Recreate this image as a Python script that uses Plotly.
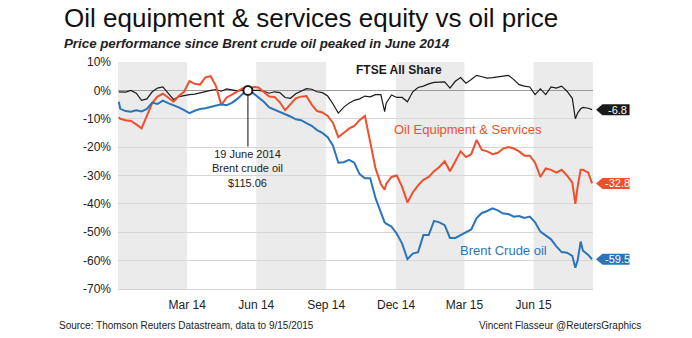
import pandas as pd
import numpy as np
import plotly.graph_objects as go

# ---------------- data (percent change vs 19 June 2014) ----------------
weekly_dates = pd.date_range("2014-01-02", "2015-09-10", freq="7D")  # Thursdays

brent_weekly = [
    -6.5, -7.3, -7.5, -7.0, -7.4, -6.5, -4.3, -4.8, -3.6, -4.5,
    -5.2, -6.0, -7.0, -8.0, -7.2, -6.6, -6.3, -5.8, -5.3, -4.9,
    -5.2, -4.4, -3.0, -1.3, 0.0, -1.0, -2.5, -4.0, -6.0, -6.8,
    -7.5, -8.2, -9.2, -10.2, -10.5, -11.5, -12.5, -14.0, -15.0, -16.5,
    -19.5, -25.5, -25.3, -24.5, -25.5, -29.5, -31.0, -31.0, -38.0, -43.0,
    -47.0, -48.0, -50.5, -54.0, -59.5, -57.5, -57.0, -51.0, -51.0, -46.0,
    -46.5, -47.5, -52.0, -52.0, -51.0, -50.0, -49.0, -45.0, -43.2, -42.5,
    -41.6, -42.3, -43.4, -43.6, -44.5, -44.3, -45.0, -44.5, -46.5, -49.8,
    -51.0, -52.5, -55.0, -57.0, -57.2, -58.3, -60.0, -56.5, -58.0,
]
oil_equip_weekly = [
    -10.0, -10.5, -10.8, -12.0, -13.4, -9.0, -4.5, -2.2, -1.2, -2.5,
    -4.0, -2.0, -0.5, 3.3, 2.3, 2.0, 4.6, 5.0, 1.5, -5.2,
    -2.5, -1.5, -0.5, 0.7, 0.0, 1.2, 1.0, -0.5, -2.2, -2.3,
    -4.2, -7.0, -5.0, -2.8, -2.2, -2.0, -5.0, -7.3, -7.8, -9.0,
    -11.5, -16.5, -15.0, -13.5, -12.5, -10.5, -9.0, -18.0, -27.5, -33.0,
    -33.0, -30.5, -30.0, -34.0, -39.5, -36.0, -33.5, -31.5, -30.5, -28.5,
    -27.0, -25.0, -28.5, -25.0, -21.5, -23.5, -22.5, -17.5, -21.0, -21.5,
    -22.5, -22.0, -20.5, -20.0, -20.5, -21.5, -23.0, -23.0, -25.5, -30.5,
    -27.5, -28.0, -29.0, -28.0, -30.0, -32.5, -34.0, -28.0, -29.0,
]
ftse_weekly = [
    -0.5, -0.6, 0.0, -1.0, -3.5, -3.0, -0.5, 0.8, 1.2, -1.0,
    -3.2, -2.2, -1.8, -1.5, -1.3, -0.8, -0.5, 0.0, 0.3, -0.3,
    0.5, 0.2, -0.2, 0.0, 0.0, -0.1, 0.0, -0.3, -1.0, -0.5,
    -0.8, -2.5, -2.8, -1.2, -0.3, 0.6, 0.4, -0.5, -0.8, -2.0,
    -4.8, -8.0, -6.0, -4.5, -3.5, -3.0, -2.0, -2.3, -1.5, -1.5,
    -4.5, -1.6, -2.5, -2.5, -4.0, -0.5, 1.0, 1.5, 2.3, 2.8,
    3.0, 3.0, 0.8, 3.2, 4.5, 2.5, 3.8, 5.3, 4.8, 4.3,
    4.5, 4.8, 5.0, 5.3, 3.8, 2.0, 1.5, 1.2, -1.5, 0.5,
    -1.5, 1.2, 0.8, 1.5, -0.3, -2.8, -8.0, -6.0, -6.3,
]

extra_dates = ["2013-12-31", "2014-12-16", "2015-08-24", "2015-08-31", "2015-09-15"]
brent_extra = [-4.0, -46.5, -62.5, -53.3, -59.5]
oil_equip_extra = [-9.5, -35.0, -40.0, -28.0, -32.8]
ftse_extra = [-0.5, -7.5, -10.0, -6.5, -6.8]

peak_date = "2014-06-19"
peak_text = "19 June 2014<br>Brent crude oil<br>$115.06"

band_edges = ["2013-12-30", "2014-03-31", "2014-06-30", "2014-09-30",
              "2014-12-31", "2015-03-31", "2015-06-30", "2015-09-16 06:00"]
tick_vals = ["2014-03-31", "2014-06-30", "2014-09-30", "2014-12-31", "2015-03-31", "2015-06-30"]
tick_text = ["Mar 14", "Jun 14", "Sep 14", "Dec 14", "Mar 15", "Jun 15"]
y_vals = [10, 0, -10, -20, -30, -40, -50, -60, -70]
y_text = ["10%", "0%", "-10%", "-20%", "-30%", "-40%", "-50%", "-60%", "-70%"]

# ---------------- assemble ----------------
assert len(weekly_dates) == len(brent_weekly) == len(oil_equip_weekly) == len(ftse_weekly)
df = pd.DataFrame({
    "date": list(weekly_dates) + list(pd.to_datetime(extra_dates)),
    "brent": brent_weekly + brent_extra,
    "oil": oil_equip_weekly + oil_equip_extra,
    "ftse": ftse_weekly + ftse_extra,
}).sort_values("date").reset_index(drop=True)

BLACK = "#1a1a1a"
RED = "#ef4f2c"
BLUE = "#2b74b8"
FONT = "Liberation Sans, Arial, sans-serif"

fig = go.Figure()
fig.add_trace(go.Scatter(x=df["date"], y=df["ftse"], mode="lines",
                         line=dict(color=BLACK, width=1.2), hoverinfo="skip"))
fig.add_trace(go.Scatter(x=df["date"], y=df["oil"], mode="lines",
                         line=dict(color=RED, width=2), hoverinfo="skip"))
fig.add_trace(go.Scatter(x=df["date"], y=df["brent"], mode="lines",
                         line=dict(color=BLUE, width=2), hoverinfo="skip"))

peak_row = df[df["date"] == pd.Timestamp(peak_date)].iloc[0]
fig.add_trace(go.Scatter(x=[peak_row["date"]], y=[peak_row["brent"]], mode="markers",
                         marker=dict(symbol="circle", size=9, color="white",
                                     line=dict(color=BLACK, width=2)),
                         hoverinfo="skip"))

shapes = []
for k in range(0, len(band_edges) - 1, 2):
    shapes.append(dict(type="rect", xref="x", yref="paper", x0=band_edges[k], x1=band_edges[k + 1],
                       y0=0, y1=1, fillcolor="#ebebeb", line=dict(width=0), layer="below"))

annotations = []
# end tags
last = df.iloc[-1]
tip, body, right, h = 1.0063, 1.02, 1.077, 1.95
for col, color in [("ftse", BLACK), ("oil", RED), ("brent", BLUE)]:
    v = float(last[col])
    shapes.append(dict(type="path", xref="paper", yref="y",
                       path=f"M {tip},{v} L {body},{v + h} L {right},{v + h} L {right},{v - h} L {body},{v - h} Z",
                       fillcolor=color, line=dict(width=0)))
    annotations.append(dict(xref="paper", yref="y", x=(body + right) / 2 + 0.003, y=v, text=f"{v:.1f}",
                            showarrow=False, font=dict(family=FONT, size=11, color="white"),
                            xanchor="center", yanchor="middle"))

# series labels
annotations += [
    dict(xref="paper", yref="y", x=0.592, y=7.2, text="<b>FTSE All Share</b>", showarrow=False,
         xanchor="center", yanchor="middle", font=dict(family=FONT, size=12, color=BLACK)),
    dict(xref="paper", yref="y", x=0.737, y=-13.8, text="Oil Equipment & Services", showarrow=False,
         xanchor="center", yanchor="middle", font=dict(family=FONT, size=13, color=RED)),
    dict(xref="paper", yref="y", x=0.811, y=-56.6, text="Brent Crude oil", showarrow=False,
         xanchor="center", yanchor="middle", font=dict(family=FONT, size=13, color=BLUE)),
]
# peak annotation
annotations.append(dict(x=peak_row["date"], y=peak_row["brent"], xref="x", yref="y",
                        text=peak_text, showarrow=True, arrowhead=0, arrowwidth=1.2,
                        arrowcolor="#333333", ax=0, ay=78, standoff=5,
                        font=dict(family=FONT, size=11, color="#222222"), align="center"))
# titles and footer
annotations += [
    dict(xref="paper", yref="paper", x=-0.118, y=1.195, xanchor="left", yanchor="middle",
         text="Oil equipment & services equity vs oil price", showarrow=False,
         font=dict(family=FONT, size=26, color="#111111")),
    dict(xref="paper", yref="paper", x=-0.118, y=1.08, xanchor="left", yanchor="middle",
         text="<b><i>Price performance since Brent crude oil peaked in June 2014</i></b>", showarrow=False,
         font=dict(family=FONT, size=13.3, color="#222222")),
    dict(xref="paper", yref="paper", x=-0.128, y=-0.16, xanchor="left", yanchor="middle",
         text="Source: Thomson Reuters Datastream, data to 9/15/2015", showarrow=False,
         font=dict(family=FONT, size=10, color="#222222")),
    dict(xref="paper", yref="paper", x=1.105, y=-0.16, xanchor="right", yanchor="middle",
         text="Vincent Flasseur @ReutersGraphics", showarrow=False,
         font=dict(family=FONT, size=10, color="#222222")),
]

fig.update_layout(
    width=692, height=338,
    margin=dict(l=118, r=99, t=62, b=49),
    paper_bgcolor="white", plot_bgcolor="white",
    showlegend=False,
    shapes=shapes, annotations=annotations,
    font=dict(family=FONT, size=12, color="#222222"),
    xaxis=dict(type="date", range=[band_edges[0], band_edges[-1]],
               tickvals=tick_vals, ticktext=tick_text, showgrid=False,
               showline=True, linecolor="#d4d4d4", ticks="", zeroline=False,
               ticklabelstandoff=5,
               tickfont=dict(family=FONT, size=12, color="#222222")),
    yaxis=dict(range=[-70, 10], tickvals=y_vals, ticktext=y_text, showgrid=True,
               gridcolor="#d6d6d6", gridwidth=1, zeroline=True, zerolinecolor="#9a9a9a",
               zerolinewidth=1, ticks="", ticklabelstandoff=6,
               tickfont=dict(family=FONT, size=12, color="#222222")),
)

fig.write_html("out.html")
